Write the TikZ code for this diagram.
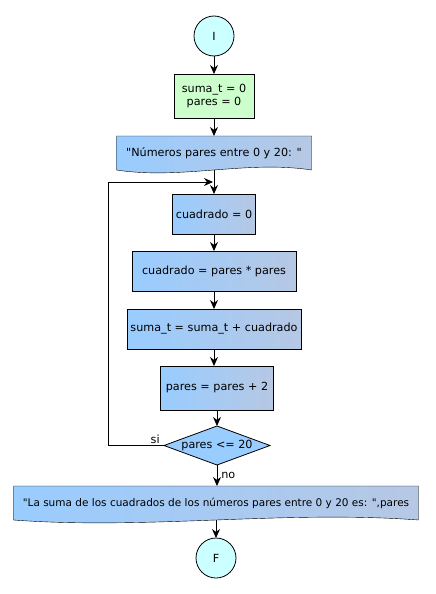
\documentclass[tikz,border=0pt]{standalone}
\usepackage{fontspec}
\setmainfont{DejaVu Sans}[Ligatures=TeXOff]
\usetikzlibrary{shapes.geometric,arrows.meta,positioning,calc,backgrounds}
\definecolor{inicio}{RGB}{204,255,255}
\definecolor{asigna}{RGB}{204,255,204}
\definecolor{azulA}{RGB}{153,204,255}
\definecolor{azulB}{RGB}{182,200,228}

\begin{document}
\begin{tikzpicture}[node distance=18pt,line width=0.8pt,
>={Stealth[length=9pt,width=8pt]},
every node/.style={font=\fontsize{11.2}{13.5}\selectfont,outer sep=0pt},
terminal/.style={
% The shape:
circle,minimum size=40pt,inner sep=0pt,
% The border and filling:
draw=black,fill=inicio},
asig/.style={
rectangle,minimum width=80pt,minimum height=44pt,align=center,
draw=black,fill=asigna},
proceso/.style={
% The shape:
rectangle,minimum height=40pt,
% The border:
draw=black,
% The filling: a shading that is light blue at the left...
left color=azulA, % ...and greyish blue at the right
right color=azulB},
salida/.style={
% only the text, the wavy shape is drawn behind it
rectangle,minimum height=34pt,inner xsep=4pt},
decision/.style={
diamond,aspect=2.7,inner sep=0pt,minimum width=106pt,minimum height=39pt,
draw=black,fill=azulA}]

\useasboundingbox (0,0) rectangle (436pt,-594pt);

\node (ini) [terminal] at (214pt,-36pt) {I};
\node (vars) [asig, below=of ini] {suma\_t = 0\\pares = 0};
\node (msg) [salida, minimum width=195pt, below=of vars] {"Números pares entre 0 y 20: "};
\node (cero) [proceso, minimum width=80pt, below=24pt of msg] {cuadrado = 0};
\node (cuad) [proceso, minimum width=164pt, below=17pt of cero] {cuadrado = pares * pares};
\node (suma) [proceso, minimum width=174pt, below=of cuad] {suma\_t = suma\_t + cuadrado};
\node (inc) [proceso, minimum width=113pt, minimum height=44pt, below=17pt of suma, xshift=3pt] {pares = pares + 2};
\node (cond) [decision, below=16pt of inc] {pares <= 20};
\node (res) [salida, minimum width=405pt, below=21pt of cond, xshift=-1pt,
  font=\fontsize{10.5}{13}\selectfont] {"La suma de los cuadrados de los números pares entre 0 y 20 es: ",pares};
\node (fin) [terminal, below=of res] {F};

\coordinate (join) at ($(msg.south)!0.5!(cero.north)$);

% wavy output boxes
\begin{scope}[on background layer]
\foreach \d in {msg,res}
  \shadedraw[left color=azulA,right color=azulB,draw=black]
    (\d.north west) -- (\d.north east) -- (\d.south east)
    .. controls ($(\d.south east)!0.333!(\d.south west)+(0,10pt)$)
    and ($(\d.south east)!0.667!(\d.south west)+(0,-10pt)$) .. (\d.south west)
    -- cycle;
\end{scope}

\path (ini) edge[->] (vars);
\path (vars) edge[->] (msg);
\draw [->] (msg.south) -- (cero.north);
\path (cero) edge[->] (cuad);
\path (cuad) edge[->] (suma);
\draw [->] (suma.south) -- (suma.south |- inc.north);
\path (inc) edge[->] (cond);
\draw [->] (cond.south) -- node[right=1pt] {no} (cond.south |- res.north);
\draw [->] (res.south -| fin) -- (fin.north);
\draw [->] (cond.west) node[above left=-1pt and 1pt] {si} -- ++(-56pt,0) |- ([xshift=-1pt]join);
\end{tikzpicture}
\end{document}
